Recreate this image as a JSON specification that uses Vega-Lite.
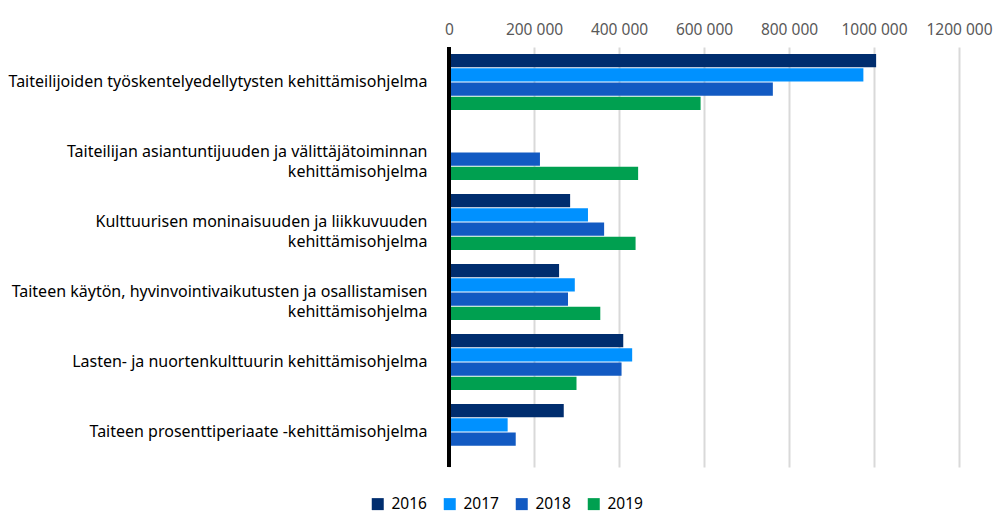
{
  "$schema": "https://vega.github.io/schema/vega-lite/v6.json",
  "width": 510,
  "height": 420,
  "autosize": {"type": "none"},
  "padding": {"left": 449, "top": 47, "right": 36, "bottom": 45},
  "background": "white",
  "config": {"view": {"stroke": null}, "font": "Noto Sans"},
  "data": {
    "values": [
      {"program": "Taiteilijoiden työskentelyedellytysten kehittämisohjelma", "year": "2016", "value": 1005000},
      {"program": "Taiteilijoiden työskentelyedellytysten kehittämisohjelma", "year": "2017", "value": 975000},
      {"program": "Taiteilijoiden työskentelyedellytysten kehittämisohjelma", "year": "2018", "value": 762000},
      {"program": "Taiteilijoiden työskentelyedellytysten kehittämisohjelma", "year": "2019", "value": 592000},
      {"program": "Taiteilijan asiantuntijuuden ja välittäjätoiminnan kehittämisohjelma", "year": "2018", "value": 214000},
      {"program": "Taiteilijan asiantuntijuuden ja välittäjätoiminnan kehittämisohjelma", "year": "2019", "value": 445000},
      {"program": "Kulttuurisen moninaisuuden ja liikkuvuuden kehittämisohjelma", "year": "2016", "value": 285000},
      {"program": "Kulttuurisen moninaisuuden ja liikkuvuuden kehittämisohjelma", "year": "2017", "value": 327000},
      {"program": "Kulttuurisen moninaisuuden ja liikkuvuuden kehittämisohjelma", "year": "2018", "value": 365000},
      {"program": "Kulttuurisen moninaisuuden ja liikkuvuuden kehittämisohjelma", "year": "2019", "value": 439000},
      {"program": "Taiteen käytön, hyvinvointivaikutusten ja osallistamisen kehittämisohjelma", "year": "2016", "value": 259000},
      {"program": "Taiteen käytön, hyvinvointivaikutusten ja osallistamisen kehittämisohjelma", "year": "2017", "value": 296000},
      {"program": "Taiteen käytön, hyvinvointivaikutusten ja osallistamisen kehittämisohjelma", "year": "2018", "value": 280000},
      {"program": "Taiteen käytön, hyvinvointivaikutusten ja osallistamisen kehittämisohjelma", "year": "2019", "value": 356000},
      {"program": "Lasten- ja nuortenkulttuurin kehittämisohjelma", "year": "2016", "value": 410000},
      {"program": "Lasten- ja nuortenkulttuurin kehittämisohjelma", "year": "2017", "value": 431000},
      {"program": "Lasten- ja nuortenkulttuurin kehittämisohjelma", "year": "2018", "value": 406000},
      {"program": "Lasten- ja nuortenkulttuurin kehittämisohjelma", "year": "2019", "value": 300000},
      {"program": "Taiteen prosenttiperiaate -kehittämisohjelma", "year": "2016", "value": 270000},
      {"program": "Taiteen prosenttiperiaate -kehittämisohjelma", "year": "2017", "value": 138000},
      {"program": "Taiteen prosenttiperiaate -kehittämisohjelma", "year": "2018", "value": 157000}
    ]
  },
  "layer": [
    {
      "mark": {"type": "bar"},
      "encoding": {
        "y": {
          "field": "program",
          "type": "nominal",
          "sort": null,
          "scale": {"paddingInner": 0.2, "paddingOuter": 0.1},
          "axis": {
            "title": null,
            "domain": false,
            "ticks": false,
            "labelFontSize": 16,
            "labelColor": "#000000",
            "labelPadding": 22,
            "labelLimit": 0,
            "labelLineHeight": 20,
            "labelAlign": "right",
            "labelExpr": "test(/^(Taiteilijan|Kulttuurisen|Taiteen käytön)/, datum.label) ? [replace(datum.label, ' kehittämisohjelma', ''), 'kehittämisohjelma'] : datum.label"
          }
        },
        "yOffset": {
          "field": "year",
          "type": "nominal",
          "scale": {"domain": ["2016", "2017", "2018", "2019"], "paddingInner": 0.07}
        },
        "x": {
          "field": "value",
          "type": "quantitative",
          "scale": {"domain": [0, 1200000], "nice": false},
          "axis": {
            "orient": "top",
            "title": null,
            "domain": false,
            "ticks": false,
            "grid": true,
            "gridColor": "#d9d9d9",
            "gridWidth": 2,
            "values": [0, 200000, 400000, 600000, 800000, 1000000, 1200000],
            "labelExpr": "datum.value == 0 ? '0' : format(datum.value / 1000, 'd') + ' 000'",
            "labelFontSize": 15.5,
            "labelColor": "#595959",
            "labelPadding": 10,
            "labelFlush": false
          }
        },
        "color": {
          "field": "year",
          "type": "nominal",
          "scale": {
            "domain": ["2016", "2017", "2018", "2019"],
            "range": ["#002D6E", "#0091FF", "#125AC2", "#00A050"]
          },
          "legend": {
            "orient": "none",
            "legendX": -79,
            "legendY": 449,
            "direction": "horizontal",
            "title": null,
            "symbolType": "square",
            "symbolSize": 144,
            "symbolStrokeWidth": 0,
            "labelFontSize": 15.5,
            "labelColor": "#000000",
            "labelOffset": 6,
            "columnPadding": 15
          }
        }
      }
    },
    {
      "mark": {"type": "rule", "color": "#000000", "strokeWidth": 4},
      "encoding": {"x": {"datum": 0}}
    }
  ]
}
